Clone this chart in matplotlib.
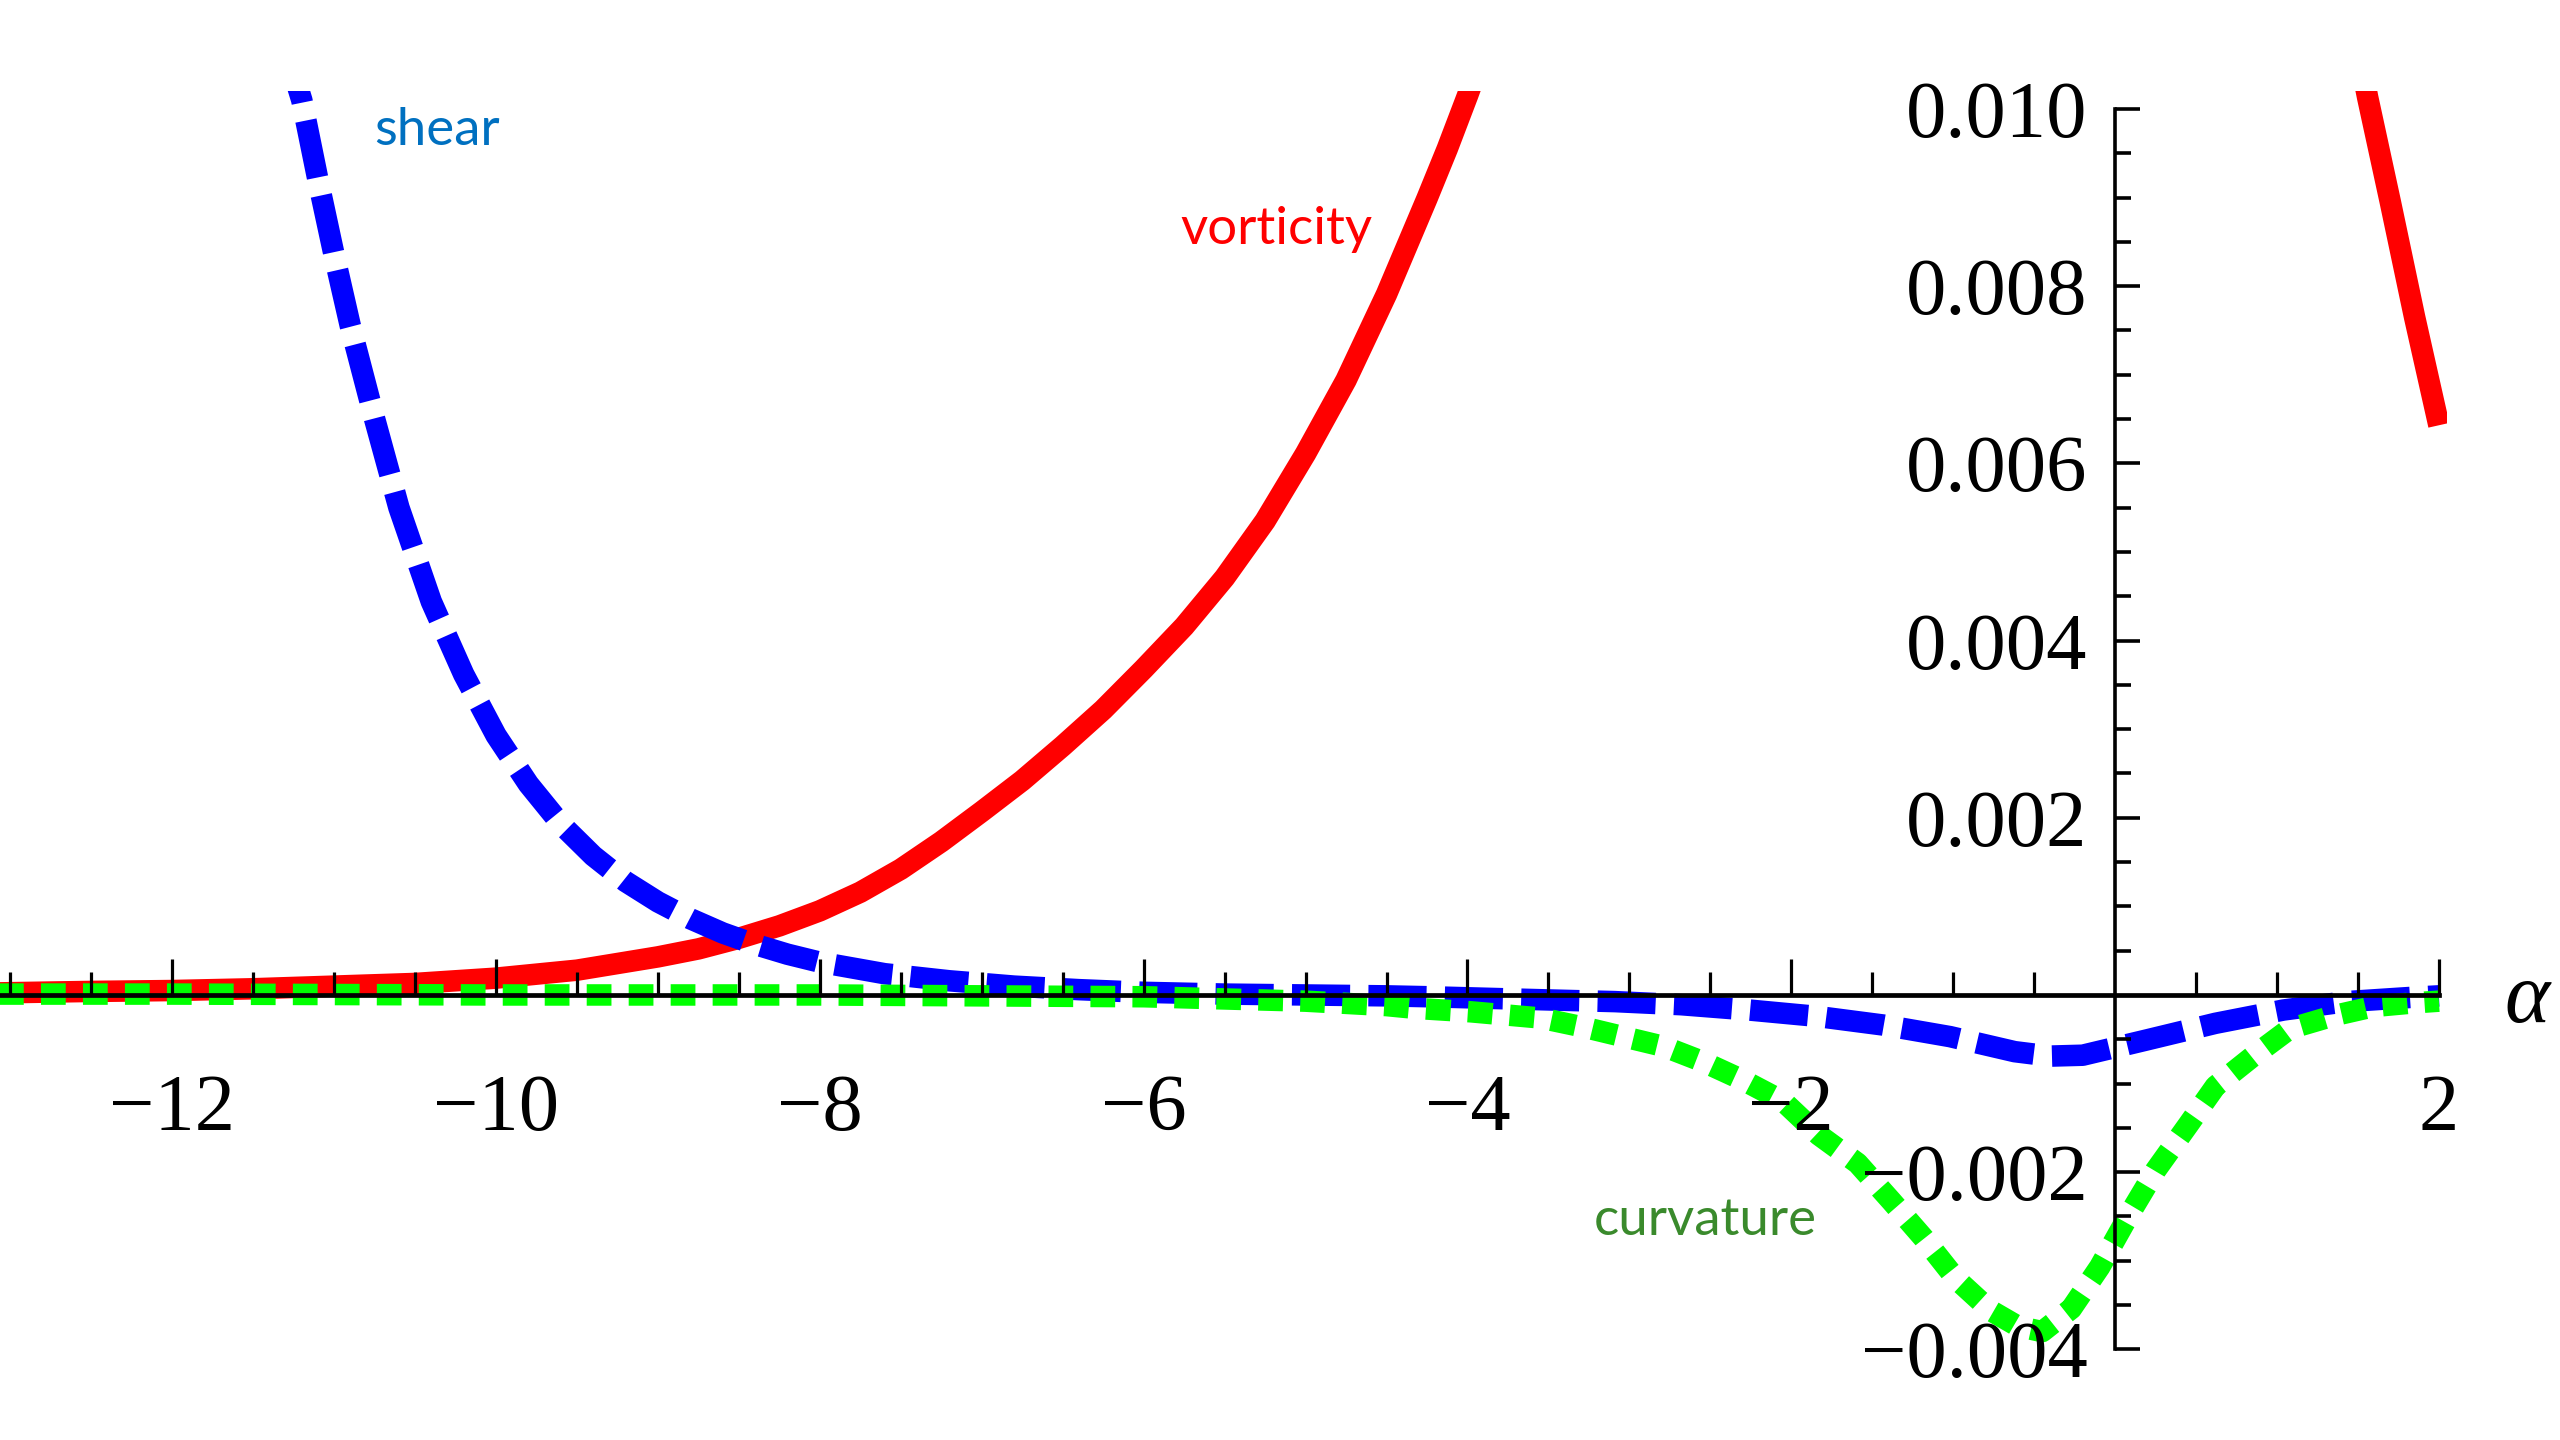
import numpy as np
import matplotlib
matplotlib.use("Agg")
import matplotlib.pyplot as plt
from matplotlib.patches import Rectangle
from matplotlib.ticker import FixedLocator, FixedFormatter

# ---- data -------------------------------------------------------------
nan = np.nan

x_vorticity = [-13.2, -12.5, -12.0, -11.5, -11.0, -10.5, -10.0, -9.5, -9.0, -8.75,
               -8.5, -8.25, -8.0, -7.75, -7.5, -7.25, -7.0, -6.75, -6.5, -6.25,
               -6.0, -5.75, -5.5, -5.25, -5.0, -4.75, -4.5, -4.25, -4.125, -4.0, -3.95,
               nan, 1.52, 1.56, 1.70, 1.85, 2.0]
y_vorticity = [0.00002, 0.00004, 0.00005, 0.00007, 0.00010, 0.00013, 0.00019, 0.00028,
               0.00043, 0.00052, 0.00064, 0.00078, 0.00095, 0.00116, 0.00142, 0.00173,
               0.00207, 0.00242, 0.00281, 0.00322, 0.00368, 0.00416, 0.00471, 0.00535,
               0.00611, 0.00694, 0.00791, 0.00899, 0.00955, 0.01015, 0.01040,
               nan, 0.01050, 0.01013, 0.00895, 0.00765, 0.00643]

x_shear = [-11.3, -11.2, -11.1, -11.0, -10.9, -10.75, -10.6, -10.4, -10.2, -10.0,
           -9.8, -9.6, -9.4, -9.2, -9.0, -8.8, -8.6, -8.4, -8.2, -8.0, -7.6, -7.2,
           -6.8, -6.4, -6.0, -5.5, -5.0, -4.5, -4.24, -3.5, -3.09, -2.68, -2.26,
           -1.85, -1.43, -1.02, -0.62, -0.4, -0.2, 0.19, 0.62, 1.04, 1.43, 1.84, 2.0]
y_shear = [0.0107, 0.0101, 0.0092, 0.00835, 0.00755, 0.0065, 0.0055, 0.00444, 0.00362,
           0.00293, 0.00238, 0.00193, 0.00157, 0.00128, 0.00105, 0.00086, 0.00070,
           0.00057, 0.00046, 0.00037, 0.00024, 0.00016, 0.00010, 0.00006, 0.00003,
           0.00001, 0.0, -0.00001, -0.00002, -0.000056, -0.000075, -0.00011, -0.00017,
           -0.00024, -0.00034, -0.00047, -0.00064, -0.00069, -0.00068, -0.00051,
           -0.00032, -0.00017, -0.000075, -0.000026, -0.00001]

x_curvature = [-13.2, -12.0, -10.0, -8.0, -6.0, -5.0, -4.5, -4.33, -3.98, -3.55, -3.29,
               -3.04, -2.79, -2.55, -2.30, -2.05, -1.83, -1.59, -1.38, -1.18, -0.985,
               -0.77, -0.60, -0.45, -0.27, -0.095, 0.08, 0.25, 0.45, 0.62, 0.86, 1.08,
               1.36, 1.60, 1.84, 2.0]
y_curvature = [0.00001, 0.00001, 0.0, 0.0, -0.00002, -0.00007, -0.00012, -0.00015,
               -0.00019, -0.00026, -0.00036, -0.00047, -0.00058, -0.00075, -0.00096,
               -0.00120, -0.00158, -0.00190, -0.00233, -0.00275, -0.00320, -0.00356,
               -0.00374, -0.00380, -0.00354, -0.00307, -0.00250, -0.00198, -0.00147,
               -0.00103, -0.00068, -0.00038, -0.00023, -0.00013, -0.00009, -0.00007]

x_major = [-12, -10, -8, -6, -4, -2, 2]
x_minor = [v for v in np.arange(-13.0, 2.01, 0.5) if v not in x_major and v != 0]
y_major = [-0.004, -0.002, 0.002, 0.004, 0.006, 0.008, 0.010]
y_minor = [v for v in np.round(np.arange(-0.004, 0.01001, 0.0005), 4)
           if not any(abs(v - m) < 1e-9 for m in y_major) and abs(v) > 1e-9]

x_labels = [str(v).replace("-", "\u2212") for v in x_major]
y_labels = [f"{v:.3f}".replace("-", "\u2212") for v in y_major]

# ---- figure -----------------------------------------------------------
fig = plt.figure(figsize=(25.6, 14.4), dpi=100)
ax = fig.add_axes([0, 0, 1, 1])
ax.set_xlim(-13.064, 2.748)
ax.set_ylim(-0.005023, 0.01123)

# plot range: curves are cut off at the top of the range
plot_range = Rectangle((-13.3, -0.0045), 15.35, 0.0147, transform=ax.transData)

lw = 15.5
l_vort, = ax.plot(x_vorticity, y_vorticity, color="#ff0000", lw=lw,
                  solid_capstyle="butt", solid_joinstyle="round", zorder=1.0)
l_shear, = ax.plot(x_shear, y_shear, color="#0000ff", lw=lw,
                   linestyle=(0, (2.7, 0.85)), dash_capstyle="butt", zorder=1.1)
l_curv, = ax.plot(x_curvature, y_curvature, color="#00ff00", lw=lw,
                  linestyle=(0, (1.15, 0.8)), dash_capstyle="butt", zorder=1.2)
for ln in (l_vort, l_shear, l_curv):
    ln.set_clip_path(plot_range)

# axes through the origin
ax.set_axisbelow(False)
for side in ("top", "right"):
    ax.spines[side].set_visible(False)
ax.spines["left"].set_position(("data", 0))
ax.spines["bottom"].set_position(("data", 0))
ax.spines["left"].set_bounds(-0.004, 0.010)
ax.spines["bottom"].set_bounds(-13.064, 2.0)
ax.spines["left"].set_linewidth(2.6)
ax.spines["bottom"].set_linewidth(3.4)

ax.xaxis.set_major_locator(FixedLocator(x_major))
ax.xaxis.set_major_formatter(FixedFormatter(x_labels))
ax.xaxis.set_minor_locator(FixedLocator(x_minor))
ax.yaxis.set_major_locator(FixedLocator(y_major))
ax.yaxis.set_major_formatter(FixedFormatter(y_labels))
ax.yaxis.set_minor_locator(FixedLocator(y_minor))

ax.tick_params(axis="x", which="major", direction="in", length=26, width=2.3,
               pad=57, labelsize=58)
ax.tick_params(axis="x", which="minor", direction="in", length=16.5, width=2.3)
ax.tick_params(axis="y", which="major", direction="in", length=18, width=2.6,
               pad=20, labelsize=58)
ax.tick_params(axis="y", which="minor", direction="in", length=11.5, width=2.6)
for lab in ax.get_xticklabels() + ax.get_yticklabels():
    lab.set_fontfamily("Liberation Serif")

ax.text(2.545, -0.00007, "\u03b1", fontsize=62, family="Liberation Serif",
        style="italic", ha="center", va="center")

# curve labels
ax.text(-10.365, 0.00959, "shear", color="#0070c0", fontsize=38, family="Lato",
        ha="center", va="baseline")
ax.text(-5.182, 0.008473, "vorticity", color="#ff0000", fontsize=38, family="Lato",
        ha="center", va="baseline")
ax.text(-2.532, -0.00271, "curvature", color="#3a8a2c", fontsize=38, family="Lato",
        ha="center", va="baseline")

fig.savefig("out.png", dpi=100, facecolor="white")
